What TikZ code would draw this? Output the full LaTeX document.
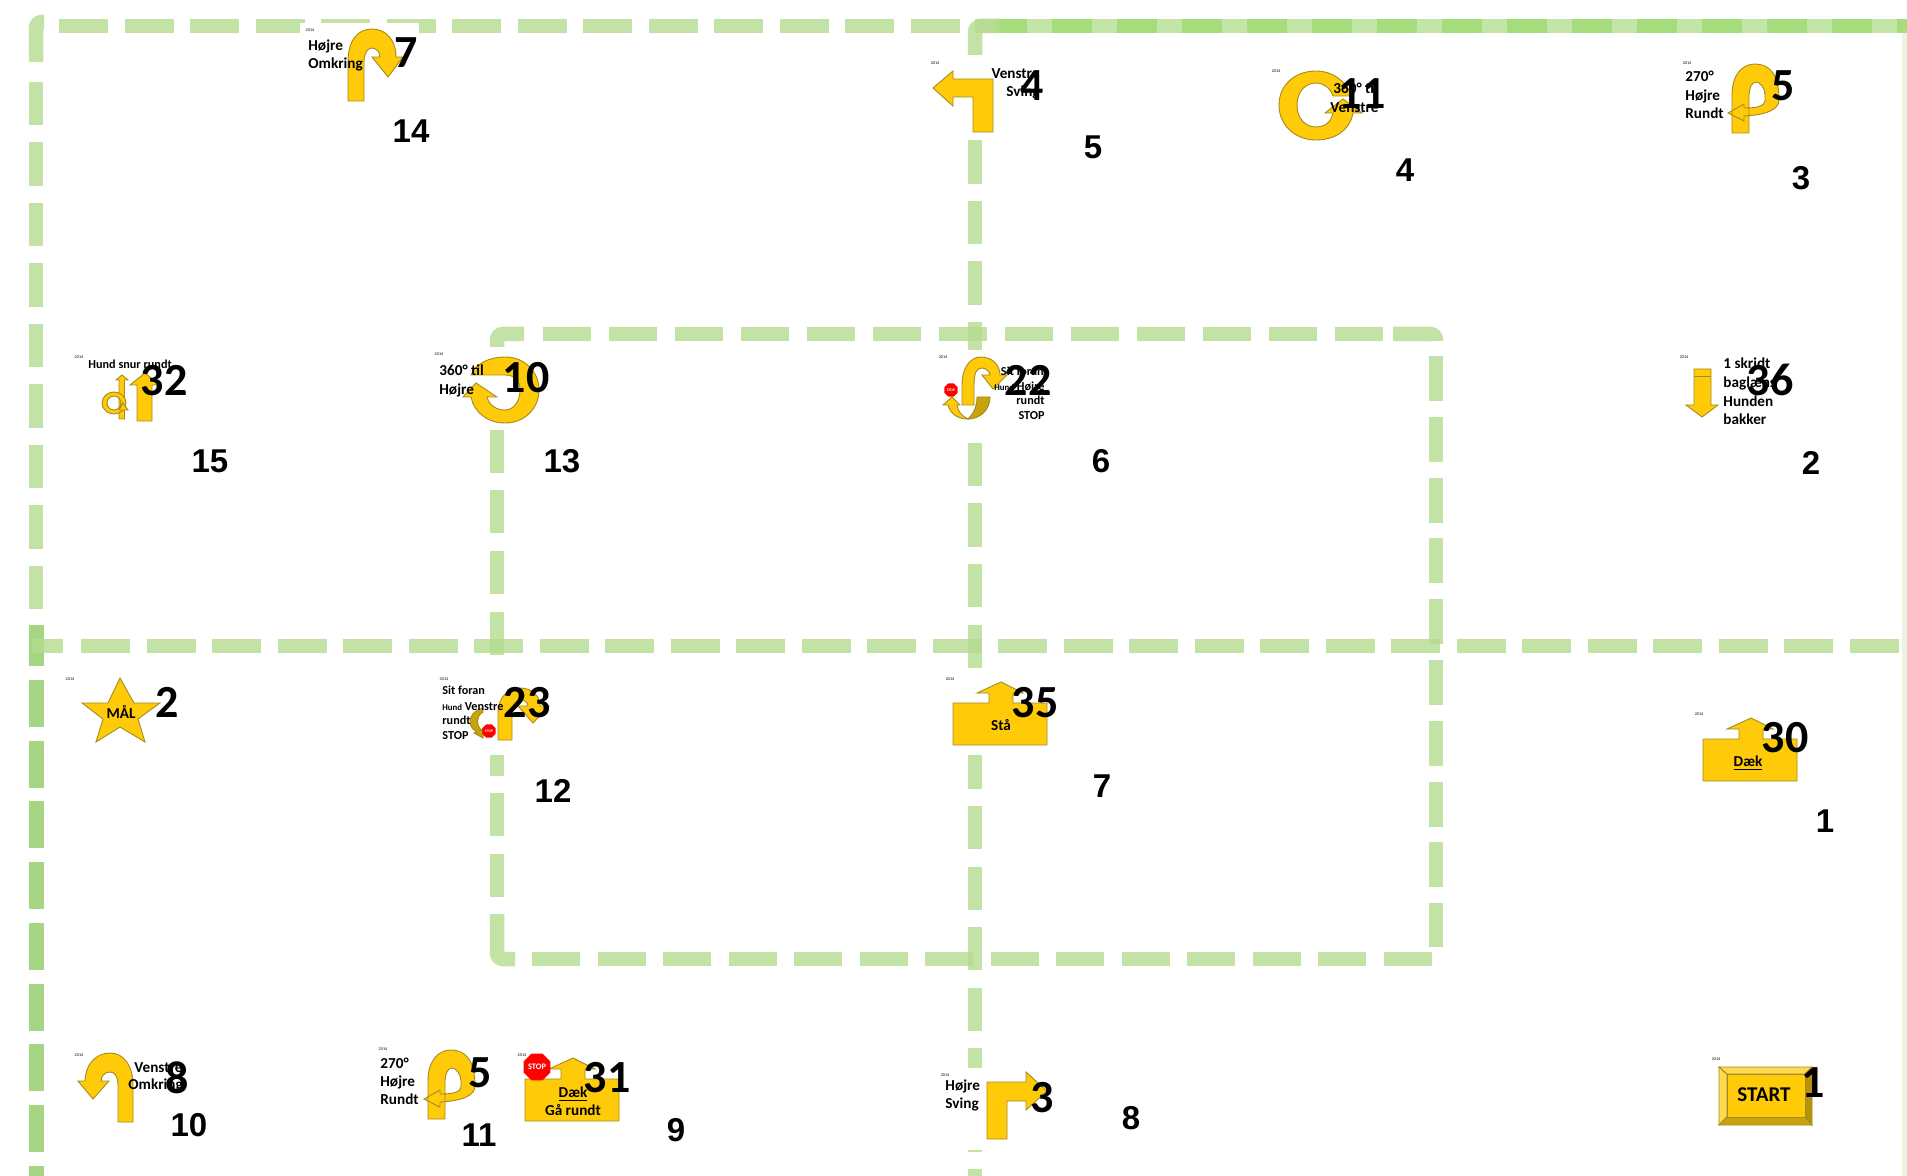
\documentclass[tikz,border=0pt]{standalone}
\usepackage{fontspec}
\usetikzlibrary{shapes.geometric}
\setmainfont{Carlito}
\newfontfamily\numfont{Liberation Sans}
\definecolor{gline}{HTML}{B4DC90}
\definecolor{gdark}{HTML}{A6D684}
\definecolor{gmid}{HTML}{C4E5A8}
\definecolor{gtop}{HTML}{A5DC7C}
\definecolor{gold}{HTML}{FFCB08}
\definecolor{goldline}{HTML}{A58A1E}
\definecolor{dgold}{HTML}{C9A30C}
\definecolor{lgold}{HTML}{FFD94F}
\tikzset{
  gbase/.style={draw=gline,line width=7.25pt,opacity=.8},
  hd/.style={gbase,dash pattern=on 24.5pt off 8.25pt},
  vd/.style={gbase,dash pattern=on 21.7pt off 8.55pt},
  corner/.style={gbase,rounded corners=3pt},
  cover/.style={fill=white,draw=none},
  yw/.style={fill=gold,draw=goldline,line width=.45pt,line join=miter},
  dy/.style={fill=dgold,draw=goldline,line width=.45pt},
  txt/.style={inner sep=0pt,font=\bfseries\fontsize{7.6}{9}\selectfont,text height=1.4ex,text depth=.3ex},
  lt/.style={txt,anchor=west},
  rt/.style={txt,anchor=east},
  ct/.style={txt,anchor=center},
  sml/.style={font=\bfseries\fontsize{6.1}{7}\selectfont},
  big/.style={inner sep=0pt,anchor=center,yshift=-.4pt,font=\bfseries\fontsize{23}{24}\selectfont},
  num/.style={inner sep=0pt,anchor=center,font=\numfont\bfseries\fontsize{16.5}{18}\selectfont},
  yr/.style={inner sep=0pt,anchor=center,font=\fontsize{2.1}{2.5}\selectfont},
  stopsign/.style={regular polygon,regular polygon sides=8,fill=red,text=white,inner sep=0pt,font=\bfseries\fontsize{1.9}{2}\selectfont,minimum size=15pt,draw=none},
  stopbig/.style={stopsign,minimum size=14.5pt,font=\bfseries\fontsize{4.2}{5}\selectfont},
}
\newcommand{\rtpath}{(1732,133)--(1732,95) .. controls (1732,75) and (1742,64) .. (1755,64) .. controls (1770,64) and (1779,75) .. (1779,100) .. controls (1779,110) and (1765,115) .. (1744,116) -- (1744,121) -- (1728,113) -- (1744,104) -- (1744,108) .. controls (1755,108) and (1765,107) .. (1765,100) -- (1765,95) .. controls (1765,88) and (1760,82) .. (1756,82) .. controls (1752,82) and (1749,88) .. (1749,95) -- (1749,133) -- cycle}
\newcommand{\housepath}{(953,703) -- (989,703) -- (989,693) -- (977,693) -- (1001,682) -- (1023,693) -- (1013,693) -- (1013,703) -- (1047,703) -- (1047,745) -- (953,745) -- cycle}
\begin{document}
\begin{tikzpicture}[x=.5pt,y=-.5pt]
\useasboundingbox (0,0) rectangle (1907,1176);
\fill[white] (0,0) rectangle (1907,1176);
% ---- route lines
\draw[hd] (59,26) -- (966,26);
\draw[corner] (36,62) |- (44,22);
\draw[vd] (36,82) -- (36,645);
\draw[draw=gdark,line width=7.5pt,dash pattern=on 23.5pt off 6.85pt] (36,680) -- (36,1176);
\draw[draw=gdark,line width=7.5pt] (36,625) -- (36,666);
\draw[draw=gmid,line width=7.25pt] (975,26) -- (1907,26);
\draw[draw=gtop,line width=7.25pt,dash pattern=on 20pt off 12.5pt,dash phase=4pt] (995,26) -- (1907,26);
\draw[corner] (975,55) |- (1000,26);
\draw[vd] (975,80) -- (975,1176);
\draw[draw=gmid,line width=3pt,opacity=.35] (1905,30) -- (1905,1176);
\draw[gbase] (32,646) -- (63,646);
\draw[hd] (81,646) -- (1907,646);
\draw[corner] (497,373) |- (524,334);
\draw[gbase,dash pattern=on 24pt off 9pt] (543,334) -- (1393,334);
\draw[corner] (1393,334) -| (1436,341);
\draw[gbase,dash pattern=on 22.5pt off 7.9pt] (1436,356) -- (1436,947);
\draw[gbase,dash pattern=on 21.5pt off 8.75pt] (497,430) -- (497,914);
\draw[corner] (497,914) |- (515,959);
\draw[gbase,dash pattern=on 24pt off 8.75pt] (532,959) -- (1433,959);
% ---- white backings
\fill[cover] (300,23) rectangle (419,112);
\fill[cover] (436,347) rectangle (548,430);
\fill[cover] (925,55) rectangle (1045,140);
\fill[cover] (935,350) rectangle (1065,433);
\fill[cover] (945,670) rectangle (1060,755);
\fill[cover] (935,1068) rectangle (1055,1150);
\fill[cover] (439,672) rectangle (555,755);
% ---- Hojre Omkring (7)
\path[yw] (348,101) -- (348,62) .. controls (348,40) and (358,29) .. (372,29) .. controls (386,29) and (396,40) .. (396,57) -- (403,57) -- (388,77) -- (372,57) -- (380,57) .. controls (380,52) and (376,48) .. (372,48) .. controls (367,48) and (364,54) .. (364,62) -- (364,101) -- cycle;
\node[yr] (y7) at (310,30) {2014};
\node[lt] (t7a) at (308,45) {Højre};
\node[lt] (t7b) at (308,63) {Omkring};
\node[big] (b7) at (406,52) {7};
\node[num] (n14) at (411,131) {14};
% ---- Venstre Sving (4)
\path[yw] (933,88) -- (953,71) -- (953,79) -- (993,79) -- (993,132) -- (973,132) -- (973,97) -- (953,97) -- (953,106) -- cycle;
\node[yr] (y4) at (935,63) {2014};
\node[rt] (t4a) at (1040,73) {Venstre};
\node[rt] (t4b) at (1040,91) {Sving};
\node[big] (b4) at (1032,85) {4};
\node[num] (n5a) at (1093,147) {5};
% ---- 360 til Venstre (11)
\path[yw] (1352,96) .. controls (1345,80) and (1332,71) .. (1316,71) .. controls (1295,71) and (1279,85) .. (1279,105) .. controls (1279,125) and (1295,140) .. (1316,140) .. controls (1335,140) and (1350,130) .. (1353,113) -- (1362,113) -- (1343,99) -- (1325,113) -- (1333,113) .. controls (1331,122) and (1325,127) .. (1316,127) .. controls (1305,127) and (1297,118) .. (1297,105) .. controls (1297,92) and (1305,83) .. (1316,83) .. controls (1324,83) and (1330,88) .. (1333,96) -- cycle;
\node[yr] (y11) at (1276,71) {2014};
\node[lt] (t11a) at (1333,88) {360° til};
\node[lt] (t11b) at (1330,107) {Venstre};
\node[big] (b11) at (1362,93) {11};
\node[num] (n4) at (1405,170) {4};
% ---- 270 Hojre Rundt, top (5)
\path[yw] \rtpath;
\node[yr] (y5a) at (1687,63) {2014};
\node[lt] (t5a) at (1685,76) {270°};
\node[lt] (t5b) at (1685,95) {Højre};
\node[lt] (t5c) at (1685,113) {Rundt};
\node[big] (b5a) at (1783,85) {5};
\node[num] (n3) at (1801,178) {3};
% ---- Hund snur rundt (32)
\path[yw] (119,419) -- (119,380) -- (116,380) -- (122,375) -- (128,380) -- (124.5,380) -- (124.5,419) -- cycle;
\path[yw,even odd rule] (114,403) ellipse [x radius=12,y radius=11] (114,403) ellipse [x radius=7,y radius=7];
\path[yw] (119,410) -- (128,410) -- (123,403) -- cycle;
\path[yw] (137,421) -- (137,385) -- (130,385) -- (145,373) -- (159,385) -- (152,385) -- (152,421) -- cycle;
\node[yr] (y32) at (79,357) {2014};
\node[lt,sml] (t32) at (88,363) {Hund snur rundt};
\node[big] (b32) at (164,380) {32};
\node[num] (n15) at (210,461) {15};
% ---- 360 til Hojre (10)
\path[yw] (471,375) .. controls (476,363) and (490,357) .. (505,357) .. controls (525,357) and (539,372) .. (539,390) .. controls (539,408) and (525,423) .. (505,423) .. controls (487,423) and (474,412) .. (471,397) -- (463,397) -- (476,383) -- (497,397) -- (487,397) .. controls (489,405) and (496,410) .. (505,410) .. controls (514,410) and (520,401) .. (520,390) .. controls (520,380) and (514,375) .. (505,375) -- cycle;
\node[yr] (y10) at (439,354) {2014};
\node[lt] (t10a) at (439,370) {360° til};
\node[lt] (t10b) at (439,389) {Højre};
\node[big] (b10) at (526,377) {10};
\node[num] (n13) at (562,461) {13};
% ---- Sit foran Hojre rundt STOP (22)
\path[yw] (962,405) -- (962,385) .. controls (962,368) and (970,357) .. (981,357) .. controls (992,357) and (1000,365) .. (1000,375) -- (1007,375) -- (993,389) -- (982,375) -- (990,375) .. controls (990,372) and (986,368) .. (982,368) .. controls (977,368) and (974,372) .. (974,385) -- (974,405) -- cycle;
\path[dy] (977,397) -- (990,397) .. controls (990,410) and (980,419) .. (968,419) .. controls (975,412) and (977,405) .. (977,397) -- cycle;
\path[yw] (968,419) .. controls (957,419) and (950,413) .. (948,405) -- (943,405) -- (952,397) -- (960,405) -- (957,405) .. controls (958,412) and (962,416) .. (968,419) -- cycle;
\node[stopsign,minimum size=7.2pt] (s22) at (951,390) {STOP};
\node[yr] (y22) at (943,357) {2014};
\node[rt,sml] (t22a) at (1044,370) {Sit foran};
\node[rt,sml] (t22b) at (1045,385) {{\fontsize{4.4}{5}\selectfont Hund} Højre};
\node[rt,sml] (t22c) at (1045,399) {rundt};
\node[rt,sml] (t22d) at (1045,414) {STOP};
\node[big] (b22) at (1028,380) {22};
\node[num] (n6) at (1101,461) {6};
% ---- 1 skridt baglaens (36)
\path[yw] (1694,369) -- (1711,369) -- (1711,405) -- (1718,405) -- (1702,417) -- (1686,405) -- (1694,405) -- cycle;
\draw[draw=goldline,line width=.45pt] (1694,376) -- (1711,376);
\node[yr] (y36) at (1684,357) {2014};
\node[lt] (t36a) at (1723,363) {1 skridt};
\node[lt] (t36b) at (1723,382) {baglæns};
\node[lt] (t36c) at (1723,401) {Hunden};
\node[lt] (t36d) at (1723,419) {bakker};
\node[big] (b36) at (1770,379) {36};
\node[num] (n2a) at (1811,463) {2};
% ---- MAL (2)
\path[yw] (120,678) -- (134,703) -- (160,703) -- (138,719) -- (145,742) -- (120,727) -- (96,742) -- (103,719) -- (82,703) -- (108,703) -- cycle;
\node[yr] (y2) at (70,679) {2014};
\node[ct] (t2) at (121,713) {MÅL};
\node[big] (b2) at (167,702) {2};
% ---- Sit foran Venstre rundt STOP (23)
\path[yw] (498,740) -- (498,712) .. controls (498,698) and (508,688) .. (520,688) .. controls (532,688) and (540,696) .. (540,706) -- (549,706) -- (533,723) -- (518,706) -- (528,706) .. controls (528,702) and (524,700) .. (521,700) .. controls (515,700) and (512,705) .. (512,712) -- (512,740) -- cycle;
\path[dy] (483,708) .. controls (473,711) and (469,717) .. (470,724) .. controls (472,729) and (475,731) .. (477,732) -- (474,733) -- (483,738) -- (484,728) -- (481,730) .. controls (476,725) and (476,716) .. (483,712) -- cycle;
\node[stopsign,minimum size=7.2pt] (s23) at (489,731) {STOP};
\node[yr] (y23) at (444,679) {2014};
\node[lt,sml] (t23a) at (442,689) {Sit foran};
\node[lt,sml] (t23b) at (442,705) {{\fontsize{4.4}{5}\selectfont Hund} Venstre};
\node[lt,sml] (t23c) at (442,719) {rundt};
\node[lt,sml] (t23d) at (442,734) {STOP};
\node[big] (b23) at (527,702) {23};
\node[num] (n12) at (553,791) {12};
% ---- Sta (35)
\path[yw] \housepath;
\node[yr] (y35) at (950,679) {2014};
\node[ct] (t35) at (1001,725) {Stå};
\node[big] (b35) at (1035,702) {35};
\node[num] (n7) at (1102,786) {7};
% ---- Daek (30)
\begin{scope}[shift={(750,36)}]
\path[yw] \housepath;
\end{scope}
\node[yr] (y30) at (1699,714) {2014};
\node[ct] (t30) at (1748,761) {\underline{Dæk}};
\node[big] (b30) at (1785,737) {30};
\node[num] (n1a) at (1825,821) {1};
% ---- Venstre Omkring (8)
\path[yw] (133,1122) -- (133,1085) .. controls (133,1066) and (124,1053) .. (110,1053) .. controls (95,1053) and (85,1066) .. (85,1081) -- (78,1081) -- (93,1099) -- (109,1081) -- (101,1081) .. controls (101,1076) and (105,1072) .. (110,1072) .. controls (115,1072) and (118,1077) .. (118,1085) -- (118,1122) -- cycle;
\node[yr] (y8) at (79,1055) {2014};
\node[lt] (t8a) at (134,1067) {Venstre};
\node[lt] (t8b) at (128,1084) {Omkring};
\node[big] (b8) at (177,1077) {8};
\node[num] (n10) at (189,1125) {10};
% ---- 270 Hojre Rundt, bottom (5)
\begin{scope}[shift={(-1304,986)}]
\path[yw] \rtpath;
\end{scope}
\node[yr] (y5b) at (383,1049) {2014};
\node[lt] (t5d) at (380,1063) {270°};
\node[lt] (t5e) at (380,1081) {Højre};
\node[lt] (t5f) at (380,1099) {Rundt};
\node[big] (b5b) at (480,1072) {5};
\node[num] (n11) at (479,1135) {11};
% ---- Daek Ga rundt (31)
\begin{scope}[shift={(-428,376)}]
\path[yw] \housepath;
\end{scope}
\node[stopbig] (s31) at (537,1067) {STOP};
\node[yr] (y31) at (522,1055) {2014};
\node[ct] (t31a) at (573,1092) {\underline{Dæk}};
\node[ct] (t31b) at (573,1110) {Gå rundt};
\node[big] (b31) at (607,1077) {31};
\node[num] (n9) at (676,1130) {9};
% ---- Hojre Sving (3)
\path[yw] (987,1082) -- (1026,1082) -- (1026,1072) -- (1047,1091) -- (1026,1110) -- (1026,1101) -- (1007,1101) -- (1007,1139) -- (987,1139) -- cycle;
\node[yr] (y3) at (945,1075) {2014};
\node[lt] (t3a) at (945,1085) {Højre};
\node[lt] (t3b) at (945,1103) {Sving};
\node[big] (b3) at (1042,1097) {3};
\node[num] (n8) at (1131,1118) {8};
% ---- START (1)
\path[fill=lgold,draw=goldline,line width=.45pt] (1719,1067) -- (1727,1074) -- (1727,1117) -- (1719,1125) -- cycle;
\path[fill=lgold,draw=goldline,line width=.45pt] (1719,1067) -- (1812,1067) -- (1805,1074) -- (1727,1074) -- cycle;
\path[fill=dgold!90!black,draw=goldline,line width=.45pt] (1812,1067) -- (1812,1125) -- (1805,1117) -- (1805,1074) -- cycle;
\path[dy] (1719,1125) -- (1812,1125) -- (1805,1117) -- (1727,1117) -- cycle;
\path[fill=gold,draw=goldline,line width=.45pt] (1727,1074) rectangle (1805,1117);
\node[yr] (y1) at (1716,1059) {2014};
\node[ct,font=\bfseries\fontsize{10.5}{12}\selectfont] (t1) at (1764,1096) {START};
\node[big] (b1) at (1813,1082) {1};
\end{tikzpicture}
\end{document}
